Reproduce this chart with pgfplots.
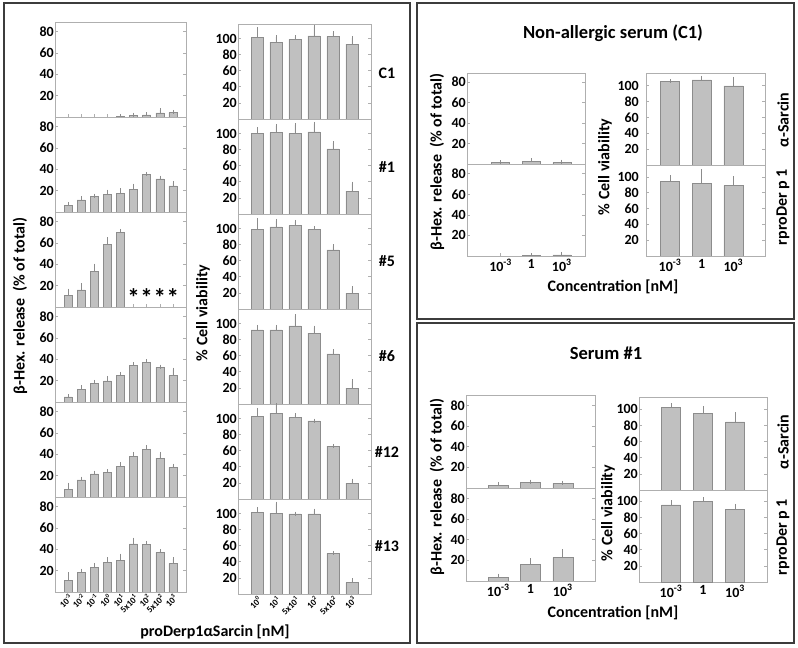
\documentclass[border=0pt]{standalone}
\usepackage{fontspec}
\setmainfont{Carlito}
\usepackage{pgfplots}
\pgfplotsset{compat=1.18}
\definecolor{barfill}{RGB}{192,192,192}
\definecolor{baredge}{RGB}{140,140,140}
\definecolor{framec}{RGB}{175,175,175}
\definecolor{boxc}{RGB}{60,60,60}
\definecolor{errc}{RGB}{140,140,140}
\newcommand{\fs}[1]{\bfseries\fontsize{#1}{#1}\selectfont}
\pgfplotsset{
  pan/.style={scale only axis, anchor=north west, ymin=0, ybar,
    axis line style={draw=framec, line width=0.7pt},
    every tick/.append style={draw=framec, line width=0.6pt},
    major tick length=3pt, tick align=inside, xtick pos=bottom, ytick pos=both,
    /pgf/number format/assume math mode=true,
    yticklabel style={font=\fs{14}, text=black, inner sep=1pt},
    xticklabel style={font=\fs{14}, text=black},
    xticklabels={}},
  bL/.style={width=131pt, height=95pt, ymax=89, ytick={20,40,60,80}, xmin=0, xmax=10, xtick={1,...,9}, bar width=8pt},
  vL/.style={width=133pt, height=95pt, ymax=118, ytick={20,40,60,80,100}, xmin=0, xmax=7, xtick={1,...,6}, bar width=12pt},
  rot/.style={xticklabel style={rotate=45, anchor=north east, font=\fs{9}, inner sep=0.5pt}},
  eb/.style={fill=barfill, draw=baredge, line width=0.5pt,
    error bars/.cd, y dir=plus, y explicit,
    error bar style={draw=errc, line width=0.6pt},
    error mark options={draw=errc, line width=0.6pt, mark size=2pt}},
}
\begin{document}
\begin{tikzpicture}
\useasboundingbox (0,0) rectangle (798pt,648pt);
\draw[boxc, line width=2pt] (4pt,5pt) rectangle (410pt,645pt);
\draw[boxc, line width=2pt] (417pt,329pt) rectangle (794pt,645pt);
\draw[boxc, line width=2pt] (417pt,5pt) rectangle (794pt,325pt);

% ---------------- left: beta-hex release ----------------
\begin{axis}[pan, bL, at={(55pt,626pt)}]
\addplot[eb] coordinates {(5,0.6) +- (0,0.3) (6,1.5) +- (0,0.7) (7,1.9) +- (0,0.6) (8,3.8) +- (0,2.7) (9,4.0) +- (0,0.7)};
\end{axis}
\begin{axis}[pan, bL, at={(55pt,531pt)}]
\addplot[eb] coordinates {(1,6.3) +- (0,1.2) (2,11.3) +- (0,1.5) (3,14.4) +- (0,0.9) (4,16.6) +- (0,2.4) (5,17.5) +- (0,2.8) (6,21.2) +- (0,3.5) (7,35) +- (0,0.6) (8,31) +- (0,1.2) (9,24.4) +- (0,2.8)};
\end{axis}
\begin{axis}[pan, bL, at={(55pt,436pt)}]
\addplot[eb] coordinates {(1,10.9) +- (0,4.4) (2,16) +- (0,4.3) (3,33.4) +- (0,5.4) (4,58.8) +- (0,4.6) (5,69.7) +- (0,1.6)};
\node[font=\fs{25}, inner sep=0pt, anchor=base] at (axis cs:6,0) {*};
\node[font=\fs{25}, inner sep=0pt, anchor=base] at (axis cs:7,0) {*};
\node[font=\fs{25}, inner sep=0pt, anchor=base] at (axis cs:8,0) {*};
\node[font=\fs{25}, inner sep=0pt, anchor=base] at (axis cs:9,0) {*};
\end{axis}
\begin{axis}[pan, bL, at={(55pt,341pt)}]
\addplot[eb] coordinates {(1,4.7) +- (0,0.6) (2,11.9) +- (0,2.1) (3,17.5) +- (0,1.3) (4,19.7) +- (0,2.8) (5,25) +- (0,1.3) (6,34) +- (0,1.3) (7,37.2) +- (0,1.2) (8,32.5) +- (0,0.6) (9,24.7) +- (0,5.6)};
\end{axis}
\begin{axis}[pan, bL, at={(55pt,246pt)}]
\addplot[eb] coordinates {(1,7.2) +- (0,4.4) (2,16) +- (0,1.2) (3,21.6) +- (0,1.2) (4,23) +- (0,1) (5,29) +- (0,1.9) (6,37.8) +- (0,2.5) (7,44.7) +- (0,1.9) (8,36.3) +- (0,4) (9,27.8) +- (0,1.6)};
\end{axis}
\begin{axis}[pan, bL, rot, at={(55pt,151pt)},
  xticklabels={10\textsuperscript{-3},10\textsuperscript{-2},10\textsuperscript{-1},10\textsuperscript{0},10\textsuperscript{1},5x10\textsuperscript{1},10\textsuperscript{2},5x10\textsuperscript{2},10\textsuperscript{3}}]
\addplot[eb] coordinates {(1,10.6) +- (0,6) (2,18.4) +- (0,1.6) (3,23.1) +- (0,2.2) (4,27.8) +- (0,2.8) (5,29.4) +- (0,4.6) (6,45) +- (0,4) (7,44.4) +- (0,1.6) (8,37.2) +- (0,1.2) (9,26.6) +- (0,4.3)};
\end{axis}

% ---------------- left: cell viability ----------------
\begin{axis}[pan, vL, at={(238pt,624pt)}]
\addplot[eb] coordinates {(1,101.6) +- (0,9.9) (2,95.5) +- (0,6.1) (3,98.8) +- (0,2.8) (4,103.3) +- (0,11.5) (5,102.5) +- (0,4.1) (6,93) +- (0,7.4)};
\end{axis}
\begin{axis}[pan, vL, at={(238pt,529pt)}]
\addplot[eb] coordinates {(1,100) +- (0,5.4) (2,101.2) +- (0,8.3) (3,100) +- (0,10.3) (4,102) +- (0,10) (5,81) +- (0,7) (6,28.5) +- (0,9.1)};
\end{axis}
\begin{axis}[pan, vL, at={(238pt,434pt)}]
\addplot[eb] coordinates {(1,99.2) +- (0,10.8) (2,102) +- (0,7.5) (3,103.7) +- (0,4.6) (4,98.8) +- (0,1.2) (5,73.5) +- (0,4.2) (6,19.8) +- (0,5.8)};
\end{axis}
\begin{axis}[pan, vL, at={(238pt,339pt)}]
\addplot[eb] coordinates {(1,92.1) +- (0,3.8) (2,92.1) +- (0,3.8) (3,97) +- (0,12) (4,88) +- (0,7) (5,62.4) +- (0,2.9) (6,19.8) +- (0,8.2)};
\end{axis}
\begin{axis}[pan, vL, at={(238pt,244pt)}]
\addplot[eb] coordinates {(1,102.9) +- (0,7.8) (2,106.6) +- (0,11) (3,101.2) +- (0,2.9) (4,97.1) +- (0,0.4) (5,65.7) +- (0,0.4) (6,19.8) +- (0,2.9)};
\end{axis}
\begin{axis}[pan, vL, rot, at={(238pt,149pt)},
  xticklabels={10\textsuperscript{0},10\textsuperscript{1},5x10\textsuperscript{1},10\textsuperscript{2},5x10\textsuperscript{2},10\textsuperscript{3}}]
\addplot[eb] coordinates {(1,101.6) +- (0,3.4) (2,100.4) +- (0,12) (3,99.6) +- (0,0.3) (4,99.6) +- (0,4.1) (5,50.4) +- (0,0.8) (6,14) +- (0,3)};
\end{axis}

\node[rotate=90, font=\fs{16}] at (20pt,342pt) {β-Hex. release\ \ (\% of total)};
\node[rotate=90, font=\fs{16}] at (203pt,335pt) {\% Cell viability};
\node[font=\fs{16}] at (387pt,575pt) {C1};
\node[font=\fs{16}] at (387pt,481pt) {\#1};
\node[font=\fs{16}] at (387pt,387pt) {\#5};
\node[font=\fs{16}] at (387pt,292pt) {\#6};
\node[font=\fs{16}] at (387pt,196pt) {\#12};
\node[font=\fs{16}] at (387pt,102pt) {\#13};
\node[font=\fs{16}] at (215pt,16pt) {proDerp1αSarcin [nM]};

% ---------------- right top: non-allergic serum ----------------
\begin{axis}[pan, width=118pt, height=91pt, ymax=89, ytick={20,40,60,80}, xmin=-0.1, xmax=3.76, xtick={1,2,3}, bar width=18pt, at={(467pt,575pt)}]
\addplot[eb] coordinates {(1,1.3) +- (0,0.3) (2,2.6) +- (0,0.9) (3,1.3) +- (0,1.0)};
\end{axis}
\begin{axis}[pan, width=118pt, height=92pt, ymax=89.5, ytick={20,40,60,80}, xmin=-0.1, xmax=3.76, xtick={1,2,3}, bar width=18pt, at={(467pt,484pt)},
  xticklabels={10\textsuperscript{-3},1,10\textsuperscript{3}}]
\addplot[eb] coordinates {(2,0.3) +- (0,0.2) (3,1) +- (0,1)};
\end{axis}
\begin{axis}[pan, width=119pt, height=92pt, ymax=116, ytick={20,40,60,80,100}, xmin=0.24, xmax=4, xtick={1,2,3}, bar width=19pt, at={(646pt,575pt)},
  yticklabel style={xshift=-6pt}]
\addplot[eb] coordinates {(1,105.2) +- (0,0.4) (2,107.3) +- (0,2.5) (3,99.7) +- (0,8.9)};
\end{axis}
\begin{axis}[pan, width=119pt, height=91pt, ymax=115, ytick={20,40,60,80,100}, xmin=0.24, xmax=4, xtick={1,2,3}, bar width=19pt, at={(646pt,483pt)},
  yticklabel style={xshift=-6pt},
  xticklabels={10\textsuperscript{-3},1,10\textsuperscript{3}}]
\addplot[eb] coordinates {(1,94.7) +- (0,5) (2,92.2) +- (0,15.1) (3,88.8) +- (0,9.7)};
\end{axis}
\node[font=\fs{18.5}] at (613pt,615pt) {Non-allergic serum (C1)};
\node[rotate=90, font=\fs{16}] at (437pt,486pt) {β-Hex. release\ \ (\% of total)};
\node[rotate=90, font=\fs{16}] at (605pt,481pt) {\% Cell viability};
\node[rotate=90, font=\fs{16}] at (783pt,528pt) {α-Sarcin};
\node[rotate=90, font=\fs{16}] at (783pt,441pt) {rproDer p 1};
\node[font=\fs{16}] at (613pt,361pt) {Concentration [nM]};

% ---------------- right bottom: serum #1 ----------------
\begin{axis}[pan, width=129pt, height=93pt, ymax=90, ytick={20,40,60,80}, xmin=0, xmax=4, xtick={1,2,3}, bar width=20pt, at={(466pt,253pt)}]
\addplot[eb] coordinates {(1,2.9) +- (0,1) (2,5.5) +- (0,0.6) (3,4.5) +- (0,0.7)};
\end{axis}
\begin{axis}[pan, width=129pt, height=93pt, ymax=90, ytick={20,40,60,80}, xmin=0, xmax=4, xtick={1,2,3}, bar width=20pt, at={(466pt,160pt)},
  xticklabels={10\textsuperscript{-3},1,10\textsuperscript{3}}]
\addplot[eb] coordinates {(1,3.5) +- (0,1.7) (2,15.8) +- (0,4.5) (3,22.6) +- (0,6.1)};
\end{axis}
\begin{axis}[pan, width=128pt, height=93pt, ymax=115, ytick={20,40,60,80,100}, xmin=0, xmax=4, xtick={1,2,3}, bar width=19pt, at={(639pt,251pt)}]
\addplot[eb] coordinates {(1,102.5) +- (0,2.5) (2,94.6) +- (0,6.6) (3,84.3) +- (0,9.5)};
\end{axis}
\begin{axis}[pan, width=128pt, height=92pt, ymax=114, ytick={20,40,60,80,100}, xmin=0, xmax=4, xtick={1,2,3}, bar width=19pt, at={(639pt,158pt)},
  xticklabels={10\textsuperscript{-3},1,10\textsuperscript{3}}]
\addplot[eb] coordinates {(1,95.6) +- (0,3.3) (2,99.7) +- (0,2.9) (3,89.8) +- (0,4.5)};
\end{axis}
\node[font=\fs{18.5}] at (606pt,295pt) {Serum \#1};
\node[rotate=90, font=\fs{16}] at (437pt,161pt) {β-Hex. release\ \ (\% of total)};
\node[rotate=90, font=\fs{16}] at (608pt,135pt) {\% Cell viability};
\node[rotate=90, font=\fs{16}] at (783pt,206pt) {α-Sarcin};
\node[rotate=90, font=\fs{16}] at (783pt,111pt) {rproDer p 1};
\node[font=\fs{16}] at (613pt,35pt) {Concentration [nM]};
\end{tikzpicture}
\end{document}
